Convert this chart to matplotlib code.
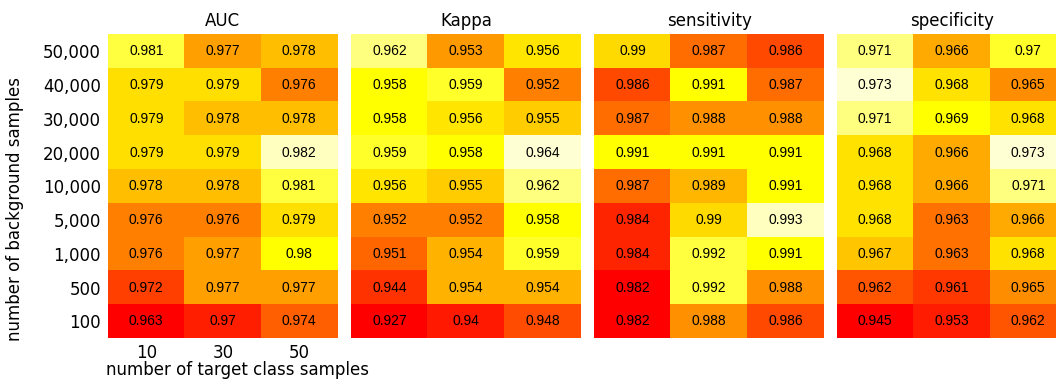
import colorsys
import numpy as np
import matplotlib
matplotlib.use("Agg")
import matplotlib.pyplot as plt
from matplotlib.colors import ListedColormap, BoundaryNorm

background_labels = ["50,000", "40,000", "30,000", "20,000", "10,000",
                     "5,000", "1,000", "500", "100"]
target_labels = ["10", "30", "50"]

auc = [
    [0.981, 0.977, 0.978],
    [0.979, 0.979, 0.976],
    [0.979, 0.978, 0.978],
    [0.979, 0.979, 0.982],
    [0.978, 0.978, 0.981],
    [0.976, 0.976, 0.979],
    [0.976, 0.977, 0.980],
    [0.972, 0.977, 0.977],
    [0.963, 0.970, 0.974],
]
kappa = [
    [0.962, 0.953, 0.956],
    [0.958, 0.959, 0.952],
    [0.958, 0.956, 0.955],
    [0.959, 0.958, 0.964],
    [0.956, 0.955, 0.962],
    [0.952, 0.952, 0.958],
    [0.951, 0.954, 0.959],
    [0.944, 0.954, 0.954],
    [0.927, 0.940, 0.948],
]
sensitivity = [
    [0.990, 0.987, 0.986],
    [0.986, 0.991, 0.987],
    [0.987, 0.988, 0.988],
    [0.991, 0.991, 0.991],
    [0.987, 0.989, 0.991],
    [0.984, 0.990, 0.993],
    [0.984, 0.992, 0.991],
    [0.982, 0.992, 0.988],
    [0.982, 0.988, 0.986],
]
specificity = [
    [0.971, 0.966, 0.970],
    [0.973, 0.968, 0.965],
    [0.971, 0.969, 0.968],
    [0.968, 0.966, 0.973],
    [0.968, 0.966, 0.971],
    [0.968, 0.963, 0.966],
    [0.967, 0.963, 0.968],
    [0.962, 0.961, 0.965],
    [0.945, 0.953, 0.962],
]

panels = [("AUC", auc), ("Kappa", kappa),
          ("sensitivity", sensitivity), ("specificity", specificity)]


def heat_colors(n):
    """Red -> yellow -> pale yellow palette (same scheme as R's heat.colors)."""
    j = n // 4
    i = n - j
    cols = []
    for k in range(i):
        h = (1 / 6) * k / (i - 1) if i > 1 else 0
        cols.append(colorsys.hsv_to_rgb(h, 1, 1))
    if j > 0:
        for s in np.linspace(1 - 1 / (2 * j), 1 / (2 * j), j):
            cols.append(colorsys.hsv_to_rgb(1 / 6, s, 1))
    return cols


W, H = 1056, 385
fig = plt.figure(figsize=(W / 100, H / 100), dpi=100)

panel_w, panel_h = 229.5, 304.0
panel_top = 34.3
lefts = [108.0, 351.3, 594.3, 837.0]

for idx, ((title, values), left) in enumerate(zip(panels, lefts)):
    data = np.array(values)
    levels = np.unique(data)
    cmap = ListedColormap(heat_colors(len(levels)))
    mids = (levels[:-1] + levels[1:]) / 2
    bounds = np.concatenate([[levels[0] - 1], mids, [levels[-1] + 1]])
    norm = BoundaryNorm(bounds, cmap.N)

    ax = fig.add_axes([left / W, 1 - (panel_top + panel_h) / H,
                       panel_w / W, panel_h / H])
    ax.imshow(data, cmap=cmap, norm=norm, aspect="auto",
              interpolation="nearest")
    nr, nc = data.shape
    for r in range(nr):
        for c in range(nc):
            ax.text(c, r, f"{data[r, c]:g}", ha="center", va="center",
                    fontsize=10, family="Liberation Sans", color="black")
    for s in ax.spines.values():
        s.set_visible(False)
    ax.set_title(title, fontsize=12, pad=6)
    ax.tick_params(length=0)
    if idx == 0:
        ax.set_yticks(range(nr))
        ax.set_yticklabels(background_labels, fontsize=12)
        ax.set_xticks(range(nc))
        ax.set_xticklabels(target_labels, fontsize=12)
        ax.tick_params(axis="y", pad=5)
        ax.tick_params(axis="x", pad=4)
    else:
        ax.set_xticks([])
        ax.set_yticks([])

fig.text(238 / W, 1 - 370 / H, "number of target class samples",
         ha="center", va="center", fontsize=12)
fig.text(15 / W, 1 - 209 / H, "number of background samples",
         ha="center", va="center", rotation=90, fontsize=12)

fig.savefig("out.png", dpi=100)
